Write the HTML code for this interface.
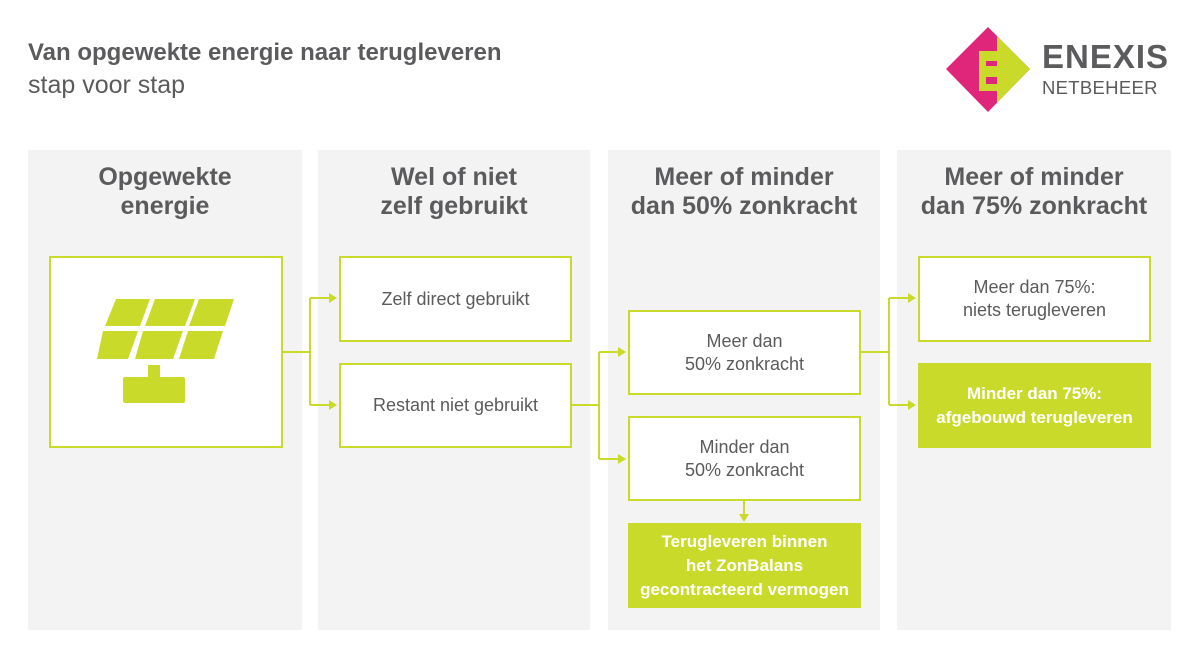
<!DOCTYPE html>
<html><head><meta charset="utf-8"><style>
body{margin:0;width:1200px;height:658px;background:#fff;position:relative;overflow:hidden;font-family:"Liberation Sans",sans-serif;color:#5b5b5d}
.a{position:absolute}
.panel{position:absolute;top:150px;height:480px;background:#f3f3f3}
.h{position:absolute;top:163px;text-align:center;font-weight:bold;font-size:25px;line-height:29px;color:#5b5b5d}
.box{position:absolute;background:#fff;border:2px solid #c9da2b;box-sizing:border-box;display:flex;align-items:center;justify-content:center;text-align:center;font-size:18px;line-height:23px;color:#5b5b5d}
.g{background:#c9da2b;color:#fff;font-weight:bold;border:none;font-size:17px;line-height:24px}
</style></head><body>
<div class="a" style="left:28px;top:39px;font-size:24px;font-weight:bold;">Van opgewekte energie naar terugleveren</div>
<div class="a" style="left:28px;top:71px;font-size:25px;">stap voor stap</div>
<svg class="a" style="left:944px;top:24px" width="92" height="92" viewBox="0 0 92 92">
<defs><clipPath id="d"><polygon points="44,3 86,45 44,88 2,45"/></clipPath></defs>
<g clip-path="url(#d)">
<rect x="0" y="0" width="92" height="92" fill="#e0267b"/>
<path d="M53,0 H92 V92 H53 V67 H35 V60 H53 V53 H42 V42 H53 V37 H35 V27 H53 Z" fill="#c9da2b"/>
<rect x="35" y="27" width="7" height="40" fill="#c9da2b"/>
</g>
</svg>
<div class="a" style="left:1042px;top:38px;font-size:33px;font-weight:bold;letter-spacing:1px;">ENEXIS</div>
<div class="a" style="left:1042px;top:77px;font-size:18.5px;letter-spacing:0.3px;">NETBEHEER</div>

<div class="panel" style="left:28px;width:274px"></div>
<div class="panel" style="left:318px;width:272px"></div>
<div class="panel" style="left:608px;width:272px"></div>
<div class="panel" style="left:897px;width:274px"></div>
<div class="h" style="left:28px;width:274px">Opgewekte<br>energie</div>
<div class="h" style="left:318px;width:272px">Wel of niet<br>zelf gebruikt</div>
<div class="h" style="left:608px;width:272px">Meer of minder<br>dan 50% zonkracht</div>
<div class="h" style="left:897px;width:274px">Meer of minder<br>dan 75% zonkracht</div>

<div class="box" style="left:49px;top:256px;width:234px;height:192px"></div>
<div class="box" style="left:339px;top:256px;width:233px;height:86px">Zelf direct gebruikt</div>
<div class="box" style="left:339px;top:363px;width:233px;height:85px">Restant niet gebruikt</div>
<div class="box" style="left:628px;top:310px;width:233px;height:85px">Meer dan<br>50% zonkracht</div>
<div class="box" style="left:628px;top:416px;width:233px;height:85px">Minder dan<br>50% zonkracht</div>
<div class="box g" style="left:628px;top:523px;width:233px;height:85px">Terugleveren binnen<br>het ZonBalans<br>gecontracteerd vermogen</div>
<div class="box" style="left:918px;top:256px;width:233px;height:86px">Meer dan 75%:<br>niets terugleveren</div>
<div class="box g" style="left:918px;top:363px;width:233px;height:85px">Minder dan 75%:<br>afgebouwd terugleveren</div>

<svg class="a" style="left:0;top:0" width="1200" height="658">
<g fill="#c9da2b">
<polygon points="116,299 150,299 140,326 105,326"/>
<polygon points="155,299 195,299 185,326 145,326"/>
<polygon points="199,299 234,299 225,326 189,326"/>
<polygon points="103,331 138,331 128,359 97,359"/>
<polygon points="143,331 183,331 173,359 135,359"/>
<polygon points="188,331 223,331 214,359 179,359"/>
<rect x="148" y="365" width="12" height="13"/>
<rect x="123" y="377" width="62" height="26" rx="2"/>
<polygon points="329,293 337,298 329,303"/><polygon points="329,400 337,405 329,410"/>
<polygon points="618,347 626,352 618,357"/><polygon points="618,454 626,459 618,464"/>
<polygon points="908,293 916,298 908,303"/><polygon points="908,400 916,405 908,410"/>
<polygon points="739,514 749,514 744,522"/>
</g>
<g stroke="#c9da2b" stroke-width="2" fill="none">
<path d="M283,352 H310 M310,298 V405 M310,298 H330 M310,405 H330"/>
<path d="M572,405 H599 M599,352 V459 M599,352 H619 M599,459 H619"/>
<path d="M861,352 H889 M889,298 V405 M889,298 H909 M889,405 H909"/>
<path d="M744,501 V515"/>
</g>
</svg>
</body></html>
